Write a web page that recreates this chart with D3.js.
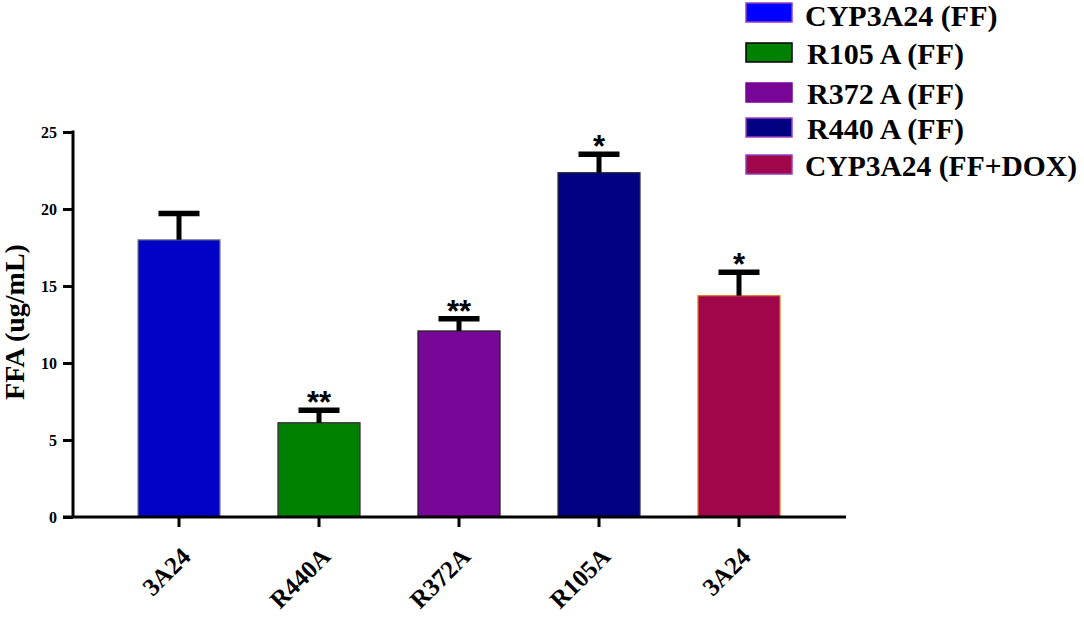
<!DOCTYPE html>
<html lang="en">
  <head>
    <meta charset="UTF-8" />
    <title>FFA bar chart</title>
    <script src="https://d3js.org/d3.v7.min.js"></script>
    <style>
      body { margin: 0; background: #fff; }
      text { font-family: "Liberation Serif", "Times New Roman", serif; font-weight: bold; }
    </style>
  </head>
  <body>
    <script>
      // data
      const categories = ["3A24", "R440A", "R372A", "R105A", "3A24"];
      const values = [18.0, 6.12, 12.08, 22.36, 14.37];
      const errors = [1.7, 0.81, 0.8, 1.19, 1.53];
      const stars = ["", "**", "**", "*", "*"];
      const yTicks = [0, 5, 10, 15, 20, 25];

      const barColors = ["#0202c6", "#008000", "#780696", "#000080", "#a0064a"];
      const barStrokes = ["#808080", "#402040", "#202020", "#303030", "#e07a20"];

      const legendLabels = ["CYP3A24 (FF)", "R105\u2009A\u2009(FF)", "R372\u2009A\u2009(FF)", "R440\u2009A\u2009(FF)", "CYP3A24 (FF+DOX)"];
      const legendColors = ["#0000ff", "#008000", "#780696", "#000080", "#a0064a"];
      const legendStrokes = ["#9040c0", "#000000", "#780696", "#a040c0", "#9040c0"];

      const width = 1084, height = 617;

      const svg = d3.select("body").append("svg")
        .attr("width", width)
        .attr("height", height);

      const x = d3.scaleBand()
        .domain(d3.range(categories.length))
        .range([109, 809])
        .paddingInner(0.414)
        .paddingOuter(0.207);

      const y = d3.scaleLinear()
        .domain([0, 25])
        .range([517, 132]);

      const axisX = 73;

      // bars
      svg.selectAll("rect.bar")
        .data(values)
        .enter().append("rect")
        .attr("class", "bar")
        .attr("x", (d, i) => x(i))
        .attr("y", d => y(d))
        .attr("width", x.bandwidth())
        .attr("height", d => y(0) - y(d))
        .attr("fill", (d, i) => barColors[i])
        .attr("stroke", (d, i) => barStrokes[i])
        .attr("stroke-width", 1.2);

      // error bars
      const err = svg.selectAll("g.err")
        .data(values)
        .enter().append("g")
        .attr("class", "err");

      err.append("line")
        .attr("x1", (d, i) => x(i) + x.bandwidth() / 2)
        .attr("x2", (d, i) => x(i) + x.bandwidth() / 2)
        .attr("y1", d => y(d))
        .attr("y2", (d, i) => y(d + errors[i]))
        .attr("stroke", "#000")
        .attr("stroke-width", 5);

      err.append("line")
        .attr("x1", (d, i) => x(i) + x.bandwidth() / 2 - 20.5)
        .attr("x2", (d, i) => x(i) + x.bandwidth() / 2 + 20.5)
        .attr("y1", (d, i) => y(d + errors[i]))
        .attr("y2", (d, i) => y(d + errors[i]))
        .attr("stroke", "#000")
        .attr("stroke-width", 5.5);

      // significance stars
      svg.selectAll("text.star")
        .data(values)
        .enter().append("text")
        .attr("class", "star")
        .attr("x", (d, i) => x(i) + x.bandwidth() / 2)
        .attr("y", (d, i) => y(d + errors[i]) + 3)
        .attr("text-anchor", "middle")
        .style("font-family", "'Liberation Sans', Arial, sans-serif")
        .style("font-size", "31px")
        .text((d, i) => stars[i]);

      // y axis
      const yAxis = svg.append("g")
        .attr("transform", `translate(${axisX},0)`)
        .call(d3.axisLeft(y).tickValues(yTicks).tickSize(10).tickPadding(6));
      yAxis.select(".domain").remove();
      yAxis.selectAll(".tick line").attr("stroke-width", 3);
      yAxis.selectAll(".tick text")
        .style("font-size", "16px")
        .attr("fill", "#000");
      yAxis.append("line")
        .attr("x1", 0).attr("x2", 0)
        .attr("y1", y(25) - 1.5).attr("y2", y(0))
        .attr("stroke", "#000").attr("stroke-width", 3);

      // x axis
      const xAxis = svg.append("g")
        .attr("transform", `translate(0,${y(0)})`)
        .call(d3.axisBottom(x).tickFormat(i => categories[i]).tickSize(10).tickPadding(0));
      xAxis.select(".domain").remove();
      xAxis.selectAll(".tick line").attr("stroke-width", 3);
      xAxis.selectAll(".tick text")
        .style("font-size", "25px")
        .attr("fill", "#000")
        .attr("text-anchor", "end")
        .attr("dy", 0)
        .attr("transform", "translate(6,34) rotate(-45)");
      xAxis.append("line")
        .attr("x1", axisX - 10).attr("x2", 846)
        .attr("y1", 0).attr("y2", 0)
        .attr("stroke", "#000").attr("stroke-width", 3);

      // y axis title
      svg.append("text")
        .attr("transform", "translate(24,322) rotate(-90)")
        .attr("text-anchor", "middle")
        .style("font-size", "28px")
        .text("FFA (ug/mL)");

      // legend
      const legendY = [3, 43, 83, 118, 155];
      const legend = svg.selectAll("g.legend")
        .data(legendLabels)
        .enter().append("g")
        .attr("class", "legend")
        .attr("transform", (d, i) => `translate(746,${legendY[i]})`);

      legend.append("rect")
        .attr("width", 46)
        .attr("height", 19)
        .attr("fill", (d, i) => legendColors[i])
        .attr("stroke", (d, i) => legendStrokes[i])
        .attr("stroke-width", 1.5);

      legend.append("text")
        .attr("x", (d, i) => (i === 0 || i === 4) ? 59 : 61)
        .attr("y", (d, i) => i === 0 ? 23 : 21)
        .style("font-size", "30px")
        .text(d => d)
        .each(function () {
          // keep the longest entry inside the right edge
          const w = this.getComputedTextLength();
          if (w > 272) d3.select(this).attr("textLength", 272).attr("lengthAdjust", "spacingAndGlyphs");
        });
    </script>
  </body>
</html>
